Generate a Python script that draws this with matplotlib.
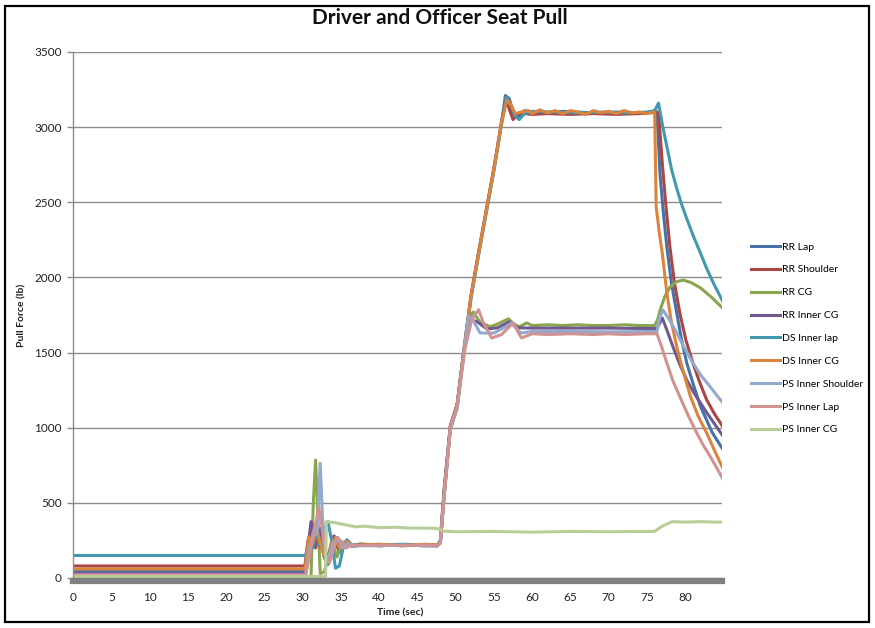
import matplotlib
matplotlib.use("Agg")
import matplotlib.pyplot as plt
from matplotlib.patches import Rectangle

plt.rcParams["font.family"] = ["Lato", "DejaVu Sans"]

# ---- data (time in s, force in lb) ----
rr_lap_t = [0, 30.3, 30.8, 31.3, 31.8, 32.3, 32.8, 33.3, 33.8, 34.3, 34.8, 35.3, 35.8, 36.5, 37.5, 40, 43, 46, 47.6,
            48.0, 48.5, 49.3, 50.2, 51.0, 52.0, 53, 54, 55, 56, 56.5, 57.0, 57.5, 58.2, 59, 60, 62, 64, 66, 68, 70,
            72, 74, 75.5, 76.3, 76.5, 76.7, 77.1, 77.6, 78.2, 78.9, 79.5, 80.2, 81.1, 82, 82.8, 83.5, 84.3, 85]
rr_lap_y = [45, 45, 230, 340, 260, 330, 140, 90, 230, 260, 170, 230, 250, 210, 225, 215, 220, 215, 215,
            240, 560, 1000, 1150, 1480, 1870, 2160, 2440, 2720, 3030, 3210, 3190, 3090, 3070, 3110, 3100, 3095, 3105,
            3100, 3095, 3100, 3100, 3095, 3100, 3100, 2900, 2690, 2450, 2200, 1960, 1760, 1590, 1430, 1280, 1140,
            1050, 970, 905, 850]

rr_shoulder_t = [0, 30.3, 30.7, 31.2, 31.7, 32.2, 32.7, 33.2, 33.7, 34.2, 34.7, 35.2, 35.7, 36.3, 37.5, 40, 43, 46,
                 47.6, 48.0, 48.5, 49.3, 50.2, 51.0, 52, 53, 54, 55, 56, 56.6, 57.0, 57.5, 58.2, 59, 60, 62, 65,
                 68, 71, 74, 76.5, 77.0, 77.5, 78.0, 78.6, 79.3, 80.1, 81, 81.9, 82.8, 83.9, 85]
rr_shoulder_y = [80, 80, 250, 330, 200, 300, 170, 100, 200, 250, 190, 210, 240, 215, 225, 220, 215, 220,
                 215, 240, 570, 1010, 1160, 1490, 1880, 2170, 2450, 2730, 3040, 3190, 3120, 3050, 3090, 3090, 3085,
                 3090, 3085, 3090, 3085, 3090, 3100, 2760, 2460, 2200, 1960, 1760, 1580, 1430, 1300, 1185, 1085,
                 1000]

rr_cg_t = [0, 31.1, 31.4, 31.7, 32.0, 32.3, 32.8, 33.3, 33.8, 34.5, 35.2, 35.8, 36.5, 37.5, 40, 43, 46, 47.6,
           48.0, 48.5, 49.3, 50.2, 51.0, 51.6, 52.3, 53.2, 54.5, 55.5, 56.9, 57.6, 58.3, 59.3, 60, 62, 64, 66,
           68, 70, 72, 74, 76, 76.4, 76.7, 77.3, 78, 78.8, 79.7, 80.8, 82, 83.5, 85]
rr_cg_y = [10, 10, 500, 785, 400, 30, 40, 120, 250, 140, 240, 230, 210, 225, 220, 225, 220, 220,
           250, 580, 1000, 1150, 1480, 1720, 1770, 1700, 1672, 1690, 1725, 1690, 1672, 1697, 1680, 1685, 1680, 1685,
           1680, 1680, 1685, 1680, 1680, 1720, 1780, 1870, 1936, 1970, 1983, 1965, 1930, 1865, 1790]

rr_inner_cg_t = [0, 30.3, 30.7, 31.1, 31.6, 32.1, 32.6, 33.1, 33.6, 34.1, 34.7, 35.3, 35.9, 36.6, 37.5, 40, 43, 46,
                 47.6, 48.0, 48.5, 49.3, 50.2, 51.0, 51.8, 52.8, 54.1, 55.5, 57.0, 58, 60, 65, 70, 75, 76.3, 77,
                 77.6, 78.4, 79.3, 80.2, 81.1, 82, 82.8, 83.5, 84.3, 85]
rr_inner_cg_y = [30, 30, 200, 375, 250, 320, 200, 130, 190, 280, 250, 200, 230, 210, 220, 215, 220, 215,
                 215, 250, 600, 1010, 1150, 1480, 1720, 1705, 1657, 1665, 1705, 1665, 1663, 1663, 1663, 1660, 1660,
                 1730, 1650, 1537, 1420, 1317, 1235, 1164, 1100, 1050, 990, 940]

ds_inner_lap_t = [0, 30.4, 30.8, 31.3, 31.8, 32.3, 32.8, 33.3, 33.8, 34.3, 34.8, 35.3, 35.8, 36.4, 37.5, 40, 43, 46,
                  47.6, 48.0, 48.5, 49.3, 50.2, 51.0, 52, 53, 54, 55, 56, 56.6, 57.1, 57.7, 58.3, 59, 60, 63, 66,
                  69, 72, 75, 76.0, 76.5, 77.0, 77.6, 78.2, 78.9, 79.5, 80.2, 81.1, 82, 82.8, 83.7, 84.4, 85]
ds_inner_lap_y = [150, 150, 250, 200, 300, 200, 320, 375, 250, 65, 80, 200, 255, 220, 220, 215, 220, 220,
                  215, 240, 550, 990, 1130, 1470, 1860, 2150, 2430, 2710, 3020, 3200, 3170, 3080, 3050, 3090, 3105,
                  3100, 3095, 3100, 3095, 3100, 3110, 3160, 3020, 2870, 2720, 2590, 2490, 2390, 2270, 2160, 2060,
                  1960, 1890, 1830]

ds_inner_cg_t = [0, 30.3, 30.8, 31.3, 31.8, 32.3, 32.8, 33.3, 33.8, 34.3, 34.8, 35.3, 35.8, 36.4, 37.5, 40, 43, 46,
                 47.6, 48.0, 48.5, 49.3, 50.2, 51.0, 52, 53, 54, 55, 56, 56.7, 57.2, 57.8, 58.5, 59.5, 60, 61, 62,
                 63, 64, 65, 66, 67, 68, 69, 70, 71, 72, 73, 74, 75, 75.8, 76.0, 76.2, 76.6, 77.0, 77.6, 78.2,
                 78.9, 79.8, 80.7, 81.7, 82.8, 83.9, 85]
ds_inner_cg_y = [60, 60, 275, 230, 340, 230, 150, 110, 230, 270, 200, 210, 245, 215, 220, 225, 215, 225,
                 220, 240, 570, 1000, 1150, 1480, 1870, 2160, 2440, 2720, 3030, 3180, 3150, 3090, 3100, 3110, 3090,
                 3115, 3095, 3110, 3090, 3110, 3100, 3085, 3110, 3095, 3105, 3090, 3110, 3095, 3100, 3090, 3100,
                 3100, 2470, 2300, 2160, 1895, 1700, 1537, 1360, 1205, 1075, 965, 840, 720]

ps_inner_shoulder_t = [0, 30.4, 30.9, 31.4, 31.9, 32.3, 32.6, 33.0, 33.5, 34.0, 34.6, 35.2, 35.8, 36.5, 37.5, 40,
                       43, 46, 47.6, 48.0, 48.5, 49.3, 50.2, 51.0, 51.7, 52.1, 53.2, 55, 56.3, 57.3, 58.5, 60, 65,
                       70, 75, 76.3, 76.7, 77.1, 77.9, 78.9, 79.9, 81, 82.1, 83.3, 84.2, 85]
ps_inner_shoulder_y = [20, 20, 200, 280, 300, 763, 400, 120, 150, 230, 270, 200, 230, 210, 215, 215,
                       220, 215, 215, 240, 560, 1000, 1140, 1470, 1740, 1730, 1630, 1630, 1665, 1697, 1630, 1640,
                       1640, 1638, 1640, 1640, 1740, 1783, 1720, 1630, 1530, 1430, 1345, 1270, 1210, 1160]

ps_inner_lap_t = [0, 30.4, 30.9, 31.4, 31.8, 32.1, 32.5, 33.0, 33.5, 34.0, 34.5, 35.1, 35.7, 36.4, 37.5, 40, 43, 46,
                  47.6, 48.0, 48.5, 49.3, 50.2, 51.2, 52.1, 53.0, 53.6, 54.7, 56, 57.5, 58.6, 60, 62, 65, 68, 70,
                  72, 75, 76.3, 76.9, 77.6, 78.4, 79.3, 80.4, 81.5, 82.4, 83.3, 84.2, 85]
ps_inner_lap_y = [20, 20, 150, 300, 380, 475, 350, 150, 100, 180, 270, 240, 200, 220, 215, 220, 215, 220,
                  215, 230, 540, 990, 1140, 1520, 1720, 1785, 1700, 1597, 1620, 1697, 1597, 1625, 1620, 1625, 1620,
                  1625, 1620, 1625, 1625, 1540, 1430, 1310, 1205, 1080, 965, 880, 805, 725, 650]

ps_inner_cg_t = [0, 33.0, 33.1, 34, 35, 36, 37, 38, 40, 42, 44, 46, 47.5, 48.5, 50, 55, 60, 65, 70, 75, 76.0, 77,
                 78.3, 80, 82, 84, 85]
ps_inner_cg_y = [10, 10, 375, 370, 360, 350, 340, 345, 335, 338, 332, 332, 330, 312, 308, 310, 305, 310, 308, 310,
                 310, 345, 375, 372, 375, 372, 372]

series = [
    ("RR Lap", rr_lap_t, rr_lap_y, "#4572A7"),
    ("RR Shoulder", rr_shoulder_t, rr_shoulder_y, "#AA4643"),
    ("RR CG", rr_cg_t, rr_cg_y, "#89A54E"),
    ("RR Inner CG", rr_inner_cg_t, rr_inner_cg_y, "#71588F"),
    ("DS Inner lap", ds_inner_lap_t, ds_inner_lap_y, "#4198AF"),
    ("DS Inner CG", ds_inner_cg_t, ds_inner_cg_y, "#DB843D"),
    ("PS Inner Shoulder", ps_inner_shoulder_t, ps_inner_shoulder_y, "#93A9CF"),
    ("PS Inner Lap", ps_inner_lap_t, ps_inner_lap_y, "#D19392"),
    ("PS Inner CG", ps_inner_cg_t, ps_inner_cg_y, "#B9CD96"),
]

W, H = 875, 628
fig = plt.figure(figsize=(W / 100, H / 100), dpi=100)
ax = fig.add_axes([73 / W, 1 - 578 / H, (722 - 73) / W, (578 - 52) / H])

for name, t, y, c in series:
    ax.plot(t, y, color=c, lw=2.2, label=name, solid_joinstyle="round")

ax.set_xlim(0, 84.8)
ax.set_ylim(0, 3500)
ax.set_xticks(range(0, 85, 5))
ax.set_yticks(range(0, 3501, 500))
ax.yaxis.grid(True, color="#8c8c8c", lw=1.0)
ax.set_axisbelow(True)

for s in ["top", "right"]:
    ax.spines[s].set_visible(False)
ax.spines["left"].set_color("#8c8c8c")
ax.spines["left"].set_linewidth(1.0)
ax.spines["bottom"].set_color("#808080")
ax.spines["bottom"].set_linewidth(4.5)
ax.spines["bottom"].set_position(("outward", 2))
ax.spines["bottom"].set_zorder(5)

ax.tick_params(axis="x", length=0, pad=8, labelsize=8.5, colors="#222222")
ax.tick_params(axis="y", length=4, width=1, color="#8c8c8c", pad=4, labelsize=8.5, labelcolor="#222222")

fig.text(440 / W, 1 - 18 / H, "Driver and Officer Seat Pull", ha="center", va="center",
         fontsize=15, fontweight="bold", color="#111111")
fig.text(400 / W, 1 - 613 / H, "Time (sec)", ha="center", va="center", fontsize=7.5,
         fontweight="bold", color="#222222")
fig.text(22 / W, 1 - 315 / H, "Pull Force (lb)", ha="center", va="center", rotation=90,
         fontsize=7.5, fontweight="bold", color="#222222")

leg = fig.legend(loc="upper left", bbox_to_anchor=(742 / W, 1 - 233 / H), frameon=False,
                 fontsize=7.5, handlelength=2.7, handletextpad=0.2, labelspacing=1.3)

fig.patches.append(Rectangle((5 / W, 6 / H), (869 - 5) / W, (622 - 6) / H, transform=fig.transFigure,
                             fill=False, edgecolor="black", lw=1.6))

fig.savefig("out.png", dpi=100)
